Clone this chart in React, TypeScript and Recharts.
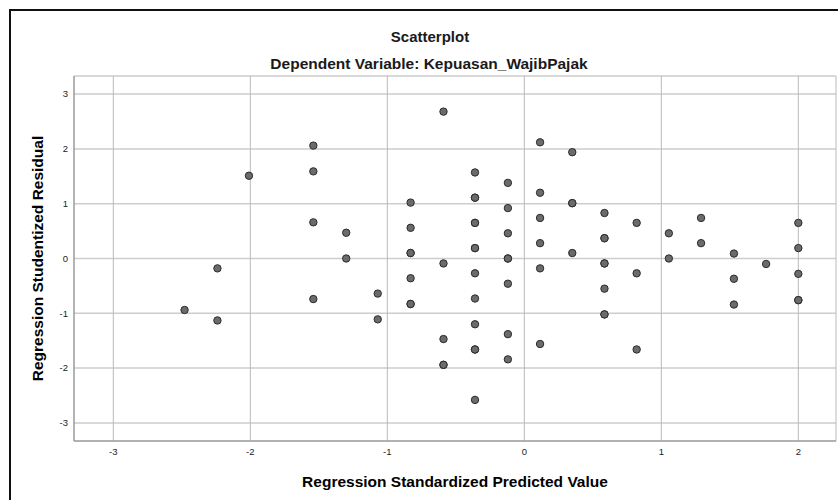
import React from 'react';
import { ScatterChart, Scatter, XAxis, YAxis, CartesianGrid, Customized } from 'recharts';

// Regression Standardized Predicted Value (x) for each case
const predictedValues = [
  -2.48, -2.24, -2.24, -2.01, -1.54, -1.54, -1.54, -1.54, -1.3, -1.3,
  -1.07, -1.07, -0.83, -0.83, -0.83, -0.83, -0.83, -0.83, -0.83,
  -0.59, -0.59, -0.59, -0.59, -0.59,
  -0.36, -0.36, -0.36, -0.36, -0.36, -0.36, -0.36, -0.36, -0.36, -0.36, -0.36, -0.36, -0.36,
  -0.12, -0.12, -0.12, -0.12, -0.12, -0.12, -0.12, -0.12,
  0.115, 0.115, 0.115, 0.115, 0.115, 0.115,
  0.35, 0.35, 0.35, 0.35,
  0.585, 0.585, 0.585, 0.585, 0.585, 0.585, 0.585, 0.585,
  0.82, 0.82, 0.82, 1.055, 1.055, 1.29, 1.29, 1.53, 1.53, 1.53, 1.765,
  2.0, 2.0, 2.0, 2.0, 2.0,
];

// Regression Studentized Residual (y) for each case
const studentizedResiduals = [
  -0.94, -0.18, -1.13, 1.51, 2.06, 1.59, 0.66, -0.74, 0.47, 0.0,
  -0.64, -1.11, 1.02, 0.56, 0.1, 0.1, -0.36, -0.83, -0.83,
  2.68, -0.09, -1.47, -1.94, -1.94,
  1.57, 1.11, 1.11, 0.65, 0.65, 0.19, 0.19, -0.27, -0.73, -1.2, -1.66, -1.66, -2.58,
  1.38, 0.92, 0.46, 0.0, 0.0, -0.46, -1.38, -1.84,
  2.12, 1.2, 0.74, 0.28, -0.18, -1.56,
  1.94, 1.01, 1.01, 0.1,
  0.83, 0.37, 0.37, -0.09, -0.09, -0.55, -1.02, -1.02,
  0.65, -0.27, -1.66, 0.46, 0.0, 0.74, 0.28, 0.09, -0.37, -0.84, -0.1,
  0.65, 0.19, -0.28, -0.76, -0.76,
];

const xTicks = [-3, -2, -1, 0, 1, 2];
const yTicks = [-3, -2, -1, 0, 1, 2, 3];
const xDomain = [-3.287, 2.275];
const yDomain = [-3.33, 3.33];

const chartTitle = 'Scatterplot';
const chartSubtitle = 'Dependent Variable: Kepuasan_WajibPajak';
const xAxisTitle = 'Regression Standardized Predicted Value';
const yAxisTitle = 'Regression Studentized Residual';

const data = predictedValues.map((x, i) => ({ x, y: studentizedResiduals[i] }));

const FONT = '"Liberation Sans", Arial, sans-serif';

const Dot = (props: any) => {
  const { cx, cy } = props;
  if (cx == null || cy == null) return null;
  return <circle cx={cx} cy={cy} r={3.7} fill="#6b6b6b" stroke="#2b2b2b" strokeWidth={1} />;
};

const Titles = () => (
  <g fontFamily={FONT} fill="#000">
    <text x={430} y={36} textAnchor="middle" dominantBaseline="central" fontSize={15} fontWeight="bold" fill="#1a1a1a">
      {chartTitle}
    </text>
    <text x={429} y={63} textAnchor="middle" dominantBaseline="central" fontSize={15.5} fontWeight="bold" fill="#1a1a1a">
      {chartSubtitle}
    </text>
    <text x={455} y={481} textAnchor="middle" dominantBaseline="central" fontSize={15.5} fontWeight="bold">
      {xAxisTitle}
    </text>
    <text
      x={37.5}
      y={258.5}
      textAnchor="middle"
      dominantBaseline="central"
      fontSize={15.5}
      fontWeight="bold"
      transform="rotate(-90 37.5 258.5)"
    >
      {yAxisTitle}
    </text>
  </g>
);

export default function App() {
  return (
    <div
      style={{
        position: 'absolute',
        left: 0,
        top: 0,
        width: 838,
        height: 500,
        overflow: 'hidden',
        background: '#fff',
      }}
    >
      <ScatterChart
        width={838}
        height={500}
        margin={{ top: 76, right: 2, bottom: 29, left: 44 }}
        style={{ fontFamily: FONT }}
      >
        <CartesianGrid horizontal={true} vertical={false} stroke="#cdcdcd" strokeWidth={1.5} />
        <CartesianGrid horizontal={false} vertical={true} stroke="#bababa" strokeWidth={1} />
        <XAxis
          type="number"
          dataKey="x"
          domain={xDomain}
          ticks={xTicks}
          allowDataOverflow
          height={30}
          tickLine={false}
          tickSize={0}
          tickMargin={7}
          stroke="#8a8a8a"
          tick={{ fill: '#222', fontSize: 9.5, fontFamily: FONT }}
        />
        <YAxis
          type="number"
          dataKey="y"
          domain={yDomain}
          ticks={yTicks}
          allowDataOverflow
          width={30}
          tickLine={false}
          tickSize={0}
          tickMargin={6}
          stroke="#8a8a8a"
          tick={{ fill: '#222', fontSize: 9.5, fontFamily: FONT }}
        />
        <Scatter data={data} shape={<Dot />} isAnimationActive={false} />
        <Customized component={Titles} />
      </ScatterChart>
      <div
        style={{
          position: 'absolute',
          left: 9,
          top: 9,
          width: 829,
          height: 491,
          borderTop: '2px solid #111',
          borderLeft: '2px solid #111',
          boxSizing: 'border-box',
          pointerEvents: 'none',
        }}
      />
    </div>
  );
}
